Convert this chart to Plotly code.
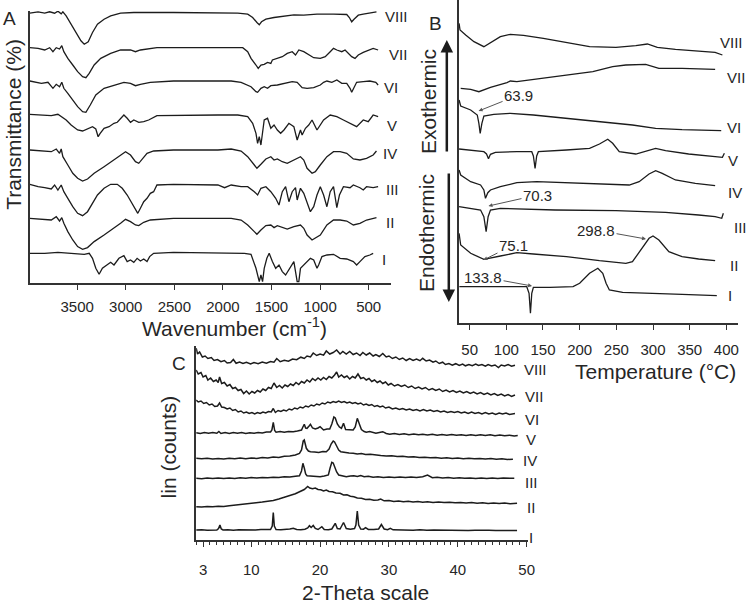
import plotly.graph_objects as go

W, H = 755, 604
LINE = "#1c1c1c"
AXIS = "#333333"
TEXT = "#262626"
FONT = "Arial, 'Liberation Sans', sans-serif"

# ---------------- A: FTIR (wavenumber, transmittance relative to each baseline) ----------------
IR_LABELS = ["I", "II", "III", "IV", "V", "VI", "VII", "VIII"]
IR_OFFSET = [29.7, 64.7, 98, 133, 168, 202, 235.3, 270.5]
IR_TICKS = [3500, 3000, 2500, 2000, 1500, 1000, 500]

IR_I_WN = [3987, 3834, 3698, 3562, 3427, 3376, 3342, 3308, 3274, 3240, 3189, 3155, 3121, 3070, 3019, 2985,
           2951, 2917, 2883, 2849, 2815, 2781, 2754, 2713, 2509,
           2051, 1779, 1711, 1660, 1626, 1609, 1592, 1575, 1548, 1524, 1491, 1457, 1423, 1389, 1355, 1321,
           1270, 1236, 1219, 1202, 1168, 1134, 1100, 1066, 1032, 1015, 981, 930, 862, 794, 726, 658, 624,
           590, 539, 488, 454]
IR_I_T = [0, 0, 1, 0, -1, 0, -5, -15, -21, -15, -11, -9, -11.7, -5, -2.3, -8.3, -6.7, -9, -5, -7.7,
          -5.7, -8.3, -3.3, 0, 1,
          0, 0, -1, -15, -28.3, -21.7, -28.3, -15, -5, 0, -8.3, -15, -11.7, -18.3, -21.7, -16.7, -8.3,
          -28.3, -28.3, -15, -11.7, -8.3, -5, -6.7, -15, -11.7, -3.3, -1.7, -1, -5, -5.7, -8.3, -11.7,
          -8.3, -3.3, -1.7, 0]

IR_II_WN = [3987, 3868, 3766, 3715, 3681, 3658, 3637, 3596, 3545, 3495, 3444, 3393, 3325, 3223, 3121, 3053,
            3002, 2951, 2900, 2866, 2815, 2747, 2509,
            2051, 1915, 1813, 1745, 1677, 1650, 1609, 1558, 1507, 1474, 1440, 1389, 1338, 1270, 1202, 1168,
            1134, 1083, 1049, 998, 930, 862, 794, 726, 658, 590, 522, 454, 420]
IR_II_T = [0, -0.7, -1.7, 1.7, -2.7, 0.7, -5, -13.3, -21.7, -28.3, -31, -29.3, -23.3, -16.7, -10, -5,
           -1, -3.3, -6.7, -7.3, -4, -1.7, 0,
           0, 0, -1.7, -6.7, -13.3, -16, -11.7, -7.3, -6.7, -9.3, -7.3, -9.3, -10.7, -8.3, -6.7, -10,
           -16.7, -21.7, -20, -16.7, -6.7, -1.7, -1.7, -2.7, -6.7, -5, -1.7, 0, 0.7]

IR_III_WN = [3987, 3902, 3834, 3766, 3732, 3698, 3664, 3637, 3596, 3545, 3495, 3444, 3393, 3342, 3291,
             3223, 3155, 3087, 3036, 2985, 2934, 2900, 2876, 2849, 2815, 2781, 2747, 2713, 2679, 2509, 2170,
             2051, 1983, 1915, 1813, 1745, 1677, 1643, 1609, 1558, 1507, 1457, 1423, 1389, 1355, 1321,
             1287, 1253, 1236, 1202, 1168, 1134, 1100, 1066, 1032, 998, 964, 930, 896, 862, 845, 828,
             801, 760, 692, 658, 590, 556, 522, 454, 403]
IR_III_T = [0.7, -1.7, -2.7, -4, 0, -5, 0, -6.7, -13.3, -21.7, -28.3, -30.7, -26.7, -18.3, -10, -3.3,
            0.7, 0.7, -3.3, -10, -18.3, -25, -28.3, -23.3, -16.7, -13.3, -8.3, -6.7, 0, 0.7, 0,
            0, -2.7, 0, -1.7, -1.7, -6.7, -10, -3.3, -1.7, -6.7, -13.3, -20, -6.7, -1.7, -16.7, -6.7,
            -2.7, -15, -3.3, -8.3, -16.7, -26.7, -21.7, -10, -1.7, -10, -21.7, -6.7, -1.7, -11.7, -22.7,
            -10, -1.7, -2.7, 0, -2.7, -5, -1.7, -2.7, -1.7]

IR_IV_WN = [3987, 3868, 3766, 3715, 3681, 3664, 3647, 3596, 3545, 3495, 3444, 3393, 3325, 3223, 3121,
            3053, 3002, 2951, 2900, 2866, 2832, 2781, 2713, 2509,
            2051, 1915, 1813, 1745, 1677, 1650, 1609, 1558, 1507, 1474, 1440, 1389, 1338, 1270, 1202,
            1168, 1134, 1083, 1049, 998, 930, 862, 794, 726, 658, 590, 522, 454, 420]
IR_IV_T = [0, -0.7, -1.7, 1, -3.3, 1, -6.7, -15, -23.3, -28.3, -31, -29, -23.3, -16.7, -10, -5, -1.7,
           -5, -11.7, -13.3, -9, -3.3, -1, 0,
           0, 1, -1, -6.7, -15, -18.3, -14.3, -9, -6.7, -10, -9, -11.7, -13.3, -10, -6.7, -10, -18.3,
           -23.3, -21.7, -15, -6.7, -1.7, -1.7, -3.3, -9, -10, -8.3, -5, -1]

IR_V_WN = [3987, 3868, 3766, 3698, 3664, 3613, 3562, 3495, 3444, 3393, 3342, 3308, 3284, 3263, 3223,
           3172, 3121, 3087, 3053, 3019, 2985, 2951, 2917, 2866, 2815, 2764, 2679, 2340,
           2051, 1847, 1745, 1694, 1660, 1643, 1626, 1609, 1592, 1575, 1541, 1507, 1474, 1440, 1406,
           1372, 1321, 1270, 1236, 1202, 1185, 1151, 1117, 1083, 1032, 998, 964, 896, 828, 760, 692,
           624, 556, 505, 454, 403]
IR_V_T = [0.7, 0, -0.7, 0.7, -1.7, -5, -10, -15, -16, -14, -11.7, -14, -21.7, -18.3, -13.3, -11.7,
          -8.3, -7.3, -3.3, 0, -3.3, -7.3, -5, -7.3, -6.7, -5, -0.7, 0,
          0, 0, -1.7, -8.3, -18.3, -28.3, -21.7, -30, -16.7, -5, -3.3, -13.3, -10, -15, -18.3, -15,
          -8.3, -11.7, -25, -15, -20, -13.3, -10, -5, -15, -10, -5, 0, -1.7, -5, -8.3, -11.7, -5,
          -6.7, 0, -1.7]

IR_VI_WN = [3987, 3936, 3868, 3800, 3749, 3715, 3681, 3658, 3637, 3596, 3545, 3495, 3444, 3410, 3365,
            3308, 3223, 3121, 3019, 2951, 2900, 2849, 2747, 2509,
            2051, 1915, 1813, 1762, 1711, 1660, 1643, 1609, 1575, 1541, 1507, 1440, 1372, 1287, 1236,
            1185, 1134, 1066, 998, 964, 930, 879, 828, 777, 726, 692, 675, 651, 624, 556, 488, 427, 403]
IR_VI_T = [0, -1.3, -2.3, -1.3, -7.3, -3.3, -5.7, -1.3, -7.3, -12.3, -19, -25.7, -30.7, -31.3, -24,
           -14, -7.3, -4, -1.3, -2.3, -4.7, -3.3, -1.3, 0,
           0, 0, -1.3, -3.3, -5.7, -10.7, -11.3, -7.3, -5.7, -7.3, -4.7, -4, -2.3, -0.7, -1.3, -6.7,
           -7.3, -6.7, -4, -1.3, 0, -1.3, 1, -2.3, -2.3, -7.3, -11.3, -5.7, -1.3, -0.7, 0, -1.3, -4]

IR_VII_WN = [3987, 3902, 3834, 3783, 3749, 3715, 3681, 3658, 3637, 3596, 3545, 3495, 3444, 3410, 3376,
             3325, 3257, 3155, 3053, 2951, 2900, 2849, 2679, 2340,
             2051, 1881, 1796, 1745, 1711, 1660, 1637, 1609, 1575, 1541, 1507, 1491, 1440, 1389, 1338,
             1287, 1253, 1219, 1168, 1117, 1066, 998, 947, 896, 862, 828, 777, 743, 709, 675, 641, 607,
             556, 505, 454, 403]
IR_VII_T = [0, -0.7, -2.3, 0, -4, 0, -1.3, 2, -4, -10.7, -17.3, -24, -29, -30, -25.7, -17.3, -10.7,
            -5.7, -2.3, -2.3, -4, -2.3, 0, 0,
            0, 0.7, 0, -4, -10.7, -17.3, -20.7, -17.3, -16.7, -14.7, -15.7, -12.3, -10.7, -9, -5.7, -4,
            -7.3, -2.3, -4, -7.3, -10, -10.7, -9, -4, -0.7, -2.3, -4, -2.3, -5.7, -9, -10.7, -7.3, -4.7,
            -2.3, -0.7, -2.3]

IR_VIII_WN = [3987, 3902, 3834, 3783, 3732, 3698, 3664, 3647, 3613, 3562, 3511, 3461, 3427, 3386, 3342,
              3291, 3223, 3155, 3053, 2917, 2509,
              2051, 1847, 1745, 1694, 1650, 1626, 1603, 1558, 1474, 1372, 1270, 1168, 1032, 862, 726,
              699, 675, 651, 607, 556, 505, 471, 420]
IR_VIII_T = [-0.7, 0.7, -0.7, 0.7, -0.7, 1.3, -1.3, 0.7, -3.3, -11.7, -20, -28.3, -31.7, -29.3, -20,
             -11.7, -6.7, -3.3, -0.7, 0, 0,
             -0.7, -0.7, -1.7, -5, -10, -12.3, -9.3, -6.7, -5, -4, -2.3, -2.7, -1.7, -1.7, -2, -5, -9.3,
             -6.7, -2.7, -1.7, -0.7, 0, 0.7]

IR_WN = [IR_I_WN, IR_II_WN, IR_III_WN, IR_IV_WN, IR_V_WN, IR_VI_WN, IR_VII_WN, IR_VIII_WN]
IR_T = [IR_I_T, IR_II_T, IR_III_T, IR_IV_T, IR_V_T, IR_VI_T, IR_VII_T, IR_VIII_T]

# ---------------- B: DSC (temperature, stacked heat flow a.u.) ----------------
DSC_TICKS = [50, 100, 150, 200, 250, 300, 350, 400]

DSC_I_T = [36, 69.4, 114.4, 127.9, 131, 132.9, 134.7, 136.9, 159.5, 191, 200, 213.5, 224.8, 231.5, 236,
           240.5, 258.6, 294.6, 339.6, 387]
DSC_I_Q = [36.3, 36.3, 36.3, 36.3, 29.7, 9.7, 29.7, 35.7, 35.7, 36.3, 39.7, 49.7, 54.7, 49.7, 39.7, 33,
           30.7, 30, 28.7, 27.3]

DSC_II_T = [35.6, 37.8, 51.4, 69.4, 91.9, 114.4, 136.9, 182, 227, 263, 272, 283.3, 294.6, 300, 308,
            321.6, 339.6, 362.2, 384.7]
DSC_II_Q = [89.7, 78, 69.7, 63.7, 67, 70.3, 69, 66.3, 62.3, 59.7, 61.3, 73, 84.7, 87, 83, 71.3, 66.3,
            64, 62.3]

DSC_III_T = [35.6, 51.4, 64.9, 69.4, 72.5, 75.2, 78.4, 91.9, 166.5, 249.5, 317.1, 362.2, 384.7, 393.7,
             395.9]
DSC_III_Q = [116.3, 114.7, 113, 106.3, 91.3, 106.3, 113, 114.7, 113, 112.3, 110.7, 108, 106.3, 104.7,
             109.7]

DSC_IV_T = [35.6, 37.8, 51.4, 64.9, 69.4, 71.6, 74.8, 78.4, 91.9, 114.4, 141.4, 182, 227, 267.6, 281.1,
            294.6, 303.6, 312.6, 330.6, 357.7, 384.7]
DSC_IV_Q = [153, 148, 141.3, 138, 133, 124.7, 130.3, 133, 136.3, 140.3, 141.3, 140.3, 139, 138, 141.3,
            149, 152.3, 149.7, 143, 139.7, 137.3]

DSC_V_T = [35.6, 51.4, 69.4, 73, 75.7, 78.4, 85.1, 114.4, 134.7, 136.9, 139.2, 141.4, 143.7, 182, 213.5,
           227, 238.3, 245, 254, 276.6, 294.6, 303.6, 317.1, 348.6, 384.7, 394.6, 397.3]
DSC_V_Q = [174, 173, 171.3, 169, 164.3, 168.7, 170.7, 171.3, 171.3, 167, 154.7, 167, 171.3, 173, 174.7,
           179, 183.7, 179.7, 171.3, 169, 172.3, 174.7, 172.3, 169, 166.3, 165.7, 169.7]

DSC_VI_T = [35.6, 37.8, 51.4, 60.4, 62.6, 64.4, 66.7, 69.4, 82.9, 105.4, 136.9, 182, 227, 249.5, 272,
            303.6, 339.6, 393]
DSC_VI_Q = [223, 217, 213, 208, 199.7, 189.7, 199.7, 207, 208.7, 209.7, 208, 204.7, 201.3, 199.7, 198,
            194.7, 193.3, 192.3]

DSC_VII_T = [37.8, 51.4, 62.6, 78.4, 100.9, 105.4, 114.4, 150.5, 186.5, 218, 245, 263, 290, 296.8, 308,
             339.6, 384.7]
DSC_VII_Q = [234.7, 233.7, 231.3, 235.7, 240.3, 242, 241.3, 244.7, 248, 251.3, 256.3, 258, 258.7, 257,
             254.7, 254.7, 253.7]

DSC_VIII_T = [35.6, 36.9, 44.6, 55.9, 69.4, 78.4, 91.9, 105.4, 123.4, 150.5, 182, 213.5, 249.5, 276.6,
              292.3, 305.9, 330.6, 357.7, 384.7, 394.6]
DSC_VIII_Q = [299.7, 293, 288, 281.3, 276.3, 280.3, 286.3, 288.7, 287.7, 284.7, 280.3, 276.3, 275.7,
              277.3, 279, 275.7, 273.7, 272, 270.7, 268]

DSC_T = [DSC_I_T, DSC_II_T, DSC_III_T, DSC_IV_T, DSC_V_T, DSC_VI_T, DSC_VII_T, DSC_VIII_T]
DSC_Q = [DSC_I_Q, DSC_II_Q, DSC_III_Q, DSC_IV_Q, DSC_V_Q, DSC_VI_Q, DSC_VII_Q, DSC_VIII_Q]

# peak callouts: (text, temperature, heat flow, text offset dx, dy in px)
DSC_NOTES = [("63.9", 62.2, 212, 40, -16), ("70.3", 75.7, 117, 49, -11), ("75.1", 68.9, 63, 30, -15),
             ("298.8", 290.5, 84, -50, -9), ("133.8", 135.1, 37, -49, -9)]

# ---------------- C: XRD (2-theta, stacked counts a.u.) ----------------
XRD_TICKS = [3, 10, 20, 30, 40, 50]

XRD_I_2T = [2.0, 2.8, 3.6, 4.4, 5.0, 5.25, 5.45, 5.65, 5.9, 6.6, 7.4, 8.2, 9.0, 9.8, 10.6, 11.4, 12.2,
            12.8, 13.05, 13.2, 13.35, 13.6, 14.3, 15.0, 15.6, 16.1, 16.6, 17.2, 17.8, 18.2, 18.45, 18.7,
            19.0, 19.3, 19.7, 20.25, 20.6, 21.2, 21.7, 22.2, 22.5, 22.9, 23.4, 23.8, 24.4, 25.0, 25.2,
            25.4, 25.6, 25.9, 26.3, 26.6, 27.0, 27.8, 28.5, 28.9, 29.3, 29.8, 30.2, 30.6, 31.5, 32.5,
            33.5, 34.5, 35.5, 36.5, 37.5, 38.5, 39.5, 40.5, 41.5, 42.5, 43.5, 44.5, 45.5, 46.5, 47.5,
            48.6]
XRD_I_C = [10, 10.3, 9.8, 10.2, 10, 11.5, 15, 11, 10, 10.3, 9.8, 10.2, 10, 10.3, 10, 10.4, 10.2, 10.5,
           14, 27.5, 14, 10.5, 10.2, 10.5, 11, 11.8, 10.5, 10.3, 10.8, 12, 14.3, 12.5, 14.5, 11.5, 10.5,
           13.3, 10.5, 10.3, 11, 16.7, 11.5, 11, 17.5, 11.5, 10.8, 11.5, 15, 29, 15, 11, 10.8, 12.3,
           10.5, 10.5, 11, 15.5, 11, 10.3, 11.7, 10.2, 10, 10.3, 9.8, 10.2, 9.7, 10, 9.8, 10, 9.6, 9.9,
           9.5, 9.8, 9.4, 9.7, 9.4, 9.6, 9.3, 9.4]

XRD_II_2T = [2.0, 2.8, 3.6, 4.4, 5.2, 6.0, 6.8, 7.6, 8.4, 9.2, 10.0, 10.8, 11.6, 12.4, 13.2, 14.0, 14.8,
             15.6, 16.4, 17.1, 17.7, 18.2, 18.5, 18.9, 19.3, 19.7, 20.1, 20.5, 20.9, 21.3, 21.8, 22.3,
             22.9, 23.4, 23.9, 24.4, 24.9, 25.4, 26.0, 26.6, 27.2, 27.8, 28.4, 28.8, 29.3, 30.0, 30.7,
             31.4, 32.1, 32.8, 33.5, 34.2, 34.9, 35.6, 36.4, 37.2, 38.0, 38.8, 39.6, 40.4, 41.2, 42.0,
             42.8, 43.6, 44.4, 45.2, 46.0, 46.8, 47.6, 48.6]
XRD_II_C = [33.3, 33, 33.6, 33.2, 33.8, 33.5, 34.3, 34.8, 35.5, 36, 36.8, 37.3, 38, 38.8, 39.5, 41,
            42.5, 44.5, 46.3, 48.3, 50.5, 53.5, 52, 51.3, 52, 50.5, 50.3, 49, 50, 48.5, 48.3, 47, 46.7,
            45, 45.2, 43.8, 43.3, 42, 41.8, 40.5, 40.8, 39.8, 40, 41, 39.2, 39.5, 38.6, 39, 38.3, 38.7,
            38, 38.5, 37.8, 38.2, 37.6, 38, 37.4, 37.8, 37.2, 37.6, 37, 37.5, 36.8, 37.3, 36.6, 37.1,
            36.4, 37, 36.3, 36.8]

XRD_III_2T = [2.0, 2.8, 3.6, 4.4, 5.2, 6.0, 6.8, 7.6, 8.4, 9.2, 10.0, 10.8, 11.6, 12.4, 13.2, 14.0, 14.8,
              15.6, 16.4, 17.0, 17.3, 17.5, 17.7, 17.9, 18.1, 18.7, 19.4, 20.0, 20.6, 21.2, 21.45, 21.7,
              21.9, 22.1, 22.4, 22.7, 23.2, 23.8, 24.4, 24.9, 25.4, 25.9, 26.4, 27.0, 27.7, 28.4, 29.2,
              30.0, 30.8, 31.6, 32.4, 33.2, 34.0, 34.9, 35.6, 36.3, 37.0, 37.8, 38.6, 39.4, 40.2, 41.0,
              41.8, 42.6, 43.4, 44.2, 45.0, 45.8, 46.6, 47.4, 48.2]
XRD_III_C = [61.7, 61.3, 62, 61.4, 62, 61.5, 62, 61.6, 62.2, 61.8, 62.4, 62, 62.6, 62.2, 62.8, 62.6,
             63.2, 63, 63.8, 64.3, 69, 76.7, 72, 66, 64.3, 63.8, 63.5, 63.3, 64, 65, 72, 77.7, 77, 73.3,
             68, 65, 64, 63.3, 64, 64.3, 63.6, 64.5, 63.3, 63.8, 62.8, 63.3, 62.6, 63, 62.5, 62.9, 62.4,
             63, 62.5, 63.3, 65, 62.3, 62.7, 62, 62.4, 61.8, 62.2, 61.7, 62.1, 61.6, 62, 61.6, 62, 61.5,
             61.9, 61.5, 61.8]

XRD_IV_2T = [2.0, 2.8, 3.6, 4.4, 5.2, 6.0, 6.8, 7.6, 8.4, 9.2, 10.0, 10.8, 11.6, 12.4, 13.2, 14.0, 14.8,
             15.6, 16.4, 17.0, 17.3, 17.55, 17.7, 17.85, 18.0, 18.3, 18.6, 19.2, 19.8, 20.4, 20.9, 21.3,
             21.6, 21.9, 22.1, 22.4, 22.7, 23.0, 23.6, 24.2, 24.8, 25.4, 26.0, 26.6, 27.3, 28.0, 28.8,
             29.6, 30.4, 31.2, 32.0, 32.8, 33.6, 34.4, 35.2, 36.0, 36.8, 37.6, 38.4, 39.2, 40.0, 40.8,
             41.6, 42.4, 43.2, 44.0, 44.8, 45.6, 46.4, 47.2, 48.0]
XRD_IV_C = [81.7, 81.2, 81.8, 81, 81.6, 81, 81.7, 81.2, 82, 81.3, 82, 81.6, 82.4, 82, 83, 82.6, 83.8,
            84, 85, 86.5, 90, 99, 100, 96, 91.7, 89, 88.3, 88, 87.5, 88.5, 88.3, 91, 96, 99, 98, 94, 90,
            88.3, 87.5, 87, 86.7, 86, 86.5, 85.5, 85.8, 85, 84.5, 84, 84.3, 83.5, 83.8, 83, 83.3, 82.5,
            82.8, 82.2, 82.5, 81.8, 82.2, 81.5, 81.9, 81.3, 81.7, 81.2, 81.5, 81, 81.4, 80.8, 81.2,
            80.5, 80.8]

XRD_V_2T = [2.0, 2.6, 3.2, 3.8, 4.4, 5.0, 5.3, 5.6, 6.2, 6.8, 7.4, 8.0, 8.6, 9.2, 9.8, 10.4, 11.0, 11.6,
            12.2, 12.8, 13.0, 13.2, 13.4, 13.6, 14.2, 14.8, 15.4, 16.1, 16.7, 17.3, 17.5, 17.7, 17.9,
            18.1, 18.4, 18.6, 18.9, 19.3, 19.7, 20.0, 20.5, 21.0, 21.4, 21.7, 22.0, 22.2, 22.5, 22.8,
            23.1, 23.4, 23.7, 24.2, 24.8, 25.1, 25.4, 25.7, 26.0, 26.4, 26.7, 27.2, 27.7, 28.1, 28.6,
            29.1, 29.6, 30.1, 30.8, 31.5, 32.2, 32.9, 33.6, 34.3, 34.9, 35.6, 36.3, 37.0, 37.7, 38.4,
            39.1, 39.8, 40.5, 41.2, 41.9, 42.6, 43.3, 44.0, 44.7, 45.4, 46.1, 46.8, 47.5, 48.2, 48.7]
XRD_V_C = [107.3, 106.5, 107.5, 106.8, 107.5, 106.7, 108.5, 106.5, 107.5, 106.5, 107.5, 106.8, 107.5,
           106.5, 107.3, 106.7, 107.5, 107, 108, 108, 110, 117.7, 109.5, 107.7, 108.5, 107.8, 108.5,
           108.3, 109, 110, 113, 115.7, 112, 111.7, 114, 115.7, 112, 111, 112, 113.3, 110, 111, 111, 116,
           123, 122, 116, 113, 111.7, 116.7, 110.5, 110, 110, 113, 121.7, 116, 110.5, 108.5, 107.7,
           108.5, 107.3, 106.7, 107.5, 108.3, 106.5, 105.7, 106.5, 105.5, 106.3, 105.3, 106, 105.3,
           105.7, 105, 105.8, 104.8, 105.5, 104.8, 105.5, 104.7, 105.3, 104.5, 105.3, 104.5, 105.2,
           104.5, 105.2, 104.3, 105, 104.3, 104.8, 104, 104.5]

XRD_VI_2T = [2.0, 2.3, 2.7, 3.1, 3.5, 3.9, 4.3, 4.7, 5.1, 5.4, 5.7, 6.1, 6.5, 6.9, 7.3, 7.7, 8.1, 8.5,
             8.9, 9.3, 9.7, 10.1, 10.5, 10.9, 11.3, 11.7, 12.1, 12.5, 12.9, 13.2, 13.5, 13.9, 14.3, 14.7,
             15.1, 15.5, 15.9, 16.3, 16.7, 17.1, 17.5, 17.9, 18.3, 18.7, 19.1, 19.5, 19.9, 20.3, 20.7,
             21.1, 21.5, 21.9, 22.3, 22.7, 23.1, 23.5, 23.9, 24.3, 24.7, 25.1, 25.5, 25.9, 26.3, 26.7,
             27.1, 27.5, 27.9, 28.3, 28.7, 29.1, 29.5, 30.0, 30.5, 31.0, 31.5, 32.0, 32.5, 33.0, 33.5,
             34.0, 34.5, 35.0, 35.5, 36.0, 36.5, 37.0, 37.5, 38.0, 38.5, 39.0, 39.5, 40.0, 40.5, 41.0,
             41.5, 42.0, 42.5, 43.0, 43.5, 44.0, 44.5, 45.0, 45.5, 46.0, 46.5, 47.0, 47.5, 48.3]
XRD_VI_C = [140, 138, 139, 136.5, 137.5, 135, 136, 133.5, 134, 137, 133, 132.5, 131, 132, 129.5, 130.5,
            128, 129, 127, 128, 126.5, 127.5, 126, 127.5, 126.5, 128, 127, 128.5, 128, 131.5, 127.5,
            129.5, 128.5, 130, 129, 131, 130, 132, 131, 133, 132, 134, 133, 135, 134, 136, 135, 137, 136,
            138, 137, 138.5, 137.5, 139, 137.5, 138.5, 137, 138, 136.5, 137.5, 136, 137, 135, 136, 134.5,
            135.5, 133.5, 134.5, 133, 134, 132, 133, 131, 132, 130.5, 131.5, 130, 131, 129.5, 130.5, 129,
            130.5, 129, 130, 128.5, 129.5, 128, 129, 127.5, 128.5, 127.5, 128.5, 127, 128, 126.5, 128,
            126.5, 127.5, 126, 127.5, 126, 127, 125.5, 127, 126, 127, 125.5, 126.5]

XRD_VII_2T = [2.0, 2.3, 2.7, 3.0, 3.4, 3.7, 4.1, 4.5, 4.9, 5.2, 5.4, 5.7, 6.1, 6.5, 6.9, 7.3, 7.7, 8.1,
              8.5, 8.9, 9.3, 9.7, 10.1, 10.5, 10.9, 11.3, 11.7, 12.1, 12.5, 12.9, 13.3, 13.7, 14.1, 14.5,
              14.9, 15.3, 15.7, 16.1, 16.5, 16.9, 17.3, 17.7, 18.1, 18.5, 18.9, 19.3, 19.7, 20.1, 20.5,
              20.9, 21.3, 21.7, 22.1, 22.4, 22.7, 23.1, 23.5, 23.9, 24.3, 24.7, 25.1, 25.5, 25.9, 26.3,
              26.7, 27.1, 27.5, 27.9, 28.3, 28.7, 29.1, 29.5, 29.9, 30.3, 30.8, 31.3, 31.8, 32.3, 32.8,
              33.3, 33.8, 34.3, 34.8, 35.3, 35.8, 36.3, 36.8, 37.3, 37.8, 38.3, 38.8, 39.3, 39.8, 40.3,
              40.8, 41.3, 41.8, 42.3, 42.8, 43.3, 43.8, 44.3, 44.8, 45.3, 45.8, 46.3, 46.8, 47.3, 47.8,
              48.3]
XRD_VII_C = [170, 166, 167.5, 163, 164.5, 160, 162, 158.5, 160, 157.5, 163, 156.5, 157.5, 154, 155.5,
             151.5, 152.5, 149.5, 150.5, 146.5, 149, 146, 148.5, 147, 149.5, 148, 151, 149.5, 152.5, 151.5,
             157, 152.5, 154.5, 152, 155, 153.5, 156, 154.5, 157.5, 155.5, 158.5, 157, 160, 158, 161.5,
             159.5, 162, 160, 162.5, 160.5, 163.5, 162, 165, 168, 163, 165, 162.5, 164, 161, 163.5, 162,
             166, 161.5, 162.5, 160, 161.5, 158.5, 160, 157.5, 159, 156.5, 158, 155, 156.5, 154, 155.5,
             153.5, 155, 152.5, 154, 151.5, 153, 151, 152.5, 150, 151.5, 149.5, 151, 148.5, 150, 148,
             149.5, 147.5, 149, 147, 148.5, 146.5, 148, 146, 147.5, 145.5, 147, 145, 146.5, 144.5, 146,
             144, 145.5, 143.5, 145]

XRD_VIII_2T = [2.0, 2.2, 2.5, 2.9, 3.3, 3.7, 4.2, 4.6, 5.1, 5.6, 6.1, 6.5, 7.0, 7.4, 7.8, 8.3, 8.8, 9.3,
               9.9, 10.4, 11.0, 11.6, 12.2, 12.8, 13.3, 13.7, 14.2, 14.8, 15.4, 16.0, 16.6, 17.2, 17.7,
               18.1, 18.6, 19.0, 19.5, 20.0, 20.5, 20.9, 21.4, 21.9, 22.4, 22.9, 23.3, 23.8, 24.3, 24.8,
               25.3, 25.8, 26.2, 26.7, 27.2, 27.7, 28.1, 28.6, 29.1, 29.6, 30.0, 30.5, 31.0, 31.5, 32.0,
               32.5, 33.0, 33.5, 34.0, 34.5, 34.9, 35.4, 35.9, 36.4, 36.8, 37.3, 37.8, 38.2, 38.7, 39.2,
               39.7, 40.2, 40.7, 41.1, 41.6, 42.1, 42.6, 43.0, 43.5, 44.0, 44.4, 44.9, 45.4, 45.9, 46.3,
               46.8, 47.3, 47.8, 48.3]
XRD_VIII_C = [191.7, 186, 188, 183, 184, 181.5, 182.5, 179.5, 180.5, 178.3, 179.5, 177, 177.5, 180.5,
              176.7, 178, 176.5, 177.8, 176, 177.5, 176.3, 178, 176.8, 178.5, 177.8, 181.5, 178.3, 179.8,
              178.8, 181, 180.3, 182.8, 181.5, 184, 183, 187, 184.5, 186, 184.8, 189, 186, 187.5, 190,
              186, 188.5, 186, 188.5, 185.5, 187, 184.5, 187.5, 185, 187, 184, 185.5, 183.5, 186.5, 183,
              184, 181.5, 183, 180.5, 182, 179.5, 181.5, 179.5, 181, 179.3, 181.7, 179, 180, 177.8, 179,
              176.5, 177.8, 175.5, 176.5, 174.8, 176.3, 174.5, 176, 174.2, 175.5, 174.3, 176, 174.5,
              175.5, 173.8, 175.5, 174, 175, 172.5, 175, 174, 175.5, 173.8, 174.8]

XRD_2T = [XRD_I_2T, XRD_II_2T, XRD_III_2T, XRD_IV_2T, XRD_V_2T, XRD_VI_2T, XRD_VII_2T, XRD_VIII_2T]
XRD_C = [XRD_I_C, XRD_II_C, XRD_III_C, XRD_IV_C, XRD_V_C, XRD_VI_C, XRD_VII_C, XRD_VIII_C]


def px(x):
    return x / W


def py(y):
    return 1 - y / H


fig = go.Figure()

for wn, t, off in zip(IR_WN, IR_T, IR_OFFSET):
    fig.add_trace(go.Scatter(x=wn, y=[off + v for v in t], mode="lines",
                             line=dict(color=LINE, width=1.3), xaxis="x", yaxis="y"))

for temp, q in zip(DSC_T, DSC_Q):
    fig.add_trace(go.Scatter(x=temp, y=q, mode="lines",
                             line=dict(color=LINE, width=1.3), xaxis="x2", yaxis="y2"))

for tt, c in zip(XRD_2T, XRD_C):
    fig.add_trace(go.Scatter(x=tt, y=c, mode="lines",
                             line=dict(color=LINE, width=1.5), xaxis="x3", yaxis="y3"))

axis_common = dict(showline=True, linecolor=AXIS, linewidth=1.6, showgrid=False, zeroline=False,
                   tickfont=dict(size=15, color=TEXT, family=FONT))
xtick = dict(ticks="outside", ticklen=5, tickwidth=1.2, tickcolor=AXIS)
yplain = dict(showticklabels=False, ticks="")

fig.update_layout(
    width=W, height=H,
    margin=dict(l=0, r=0, t=0, b=0),
    paper_bgcolor="white", plot_bgcolor="white",
    showlegend=False, hovermode=False,
    font=dict(family=FONT, color=TEXT),
    xaxis=dict(domain=[px(30), px(395)], range=[3988, 267], anchor="y",
               tickmode="array", tickvals=IR_TICKS, ticktext=[str(t) for t in IR_TICKS],
               ticklabelstandoff=4, **xtick, **axis_common),
    yaxis=dict(domain=[py(283), py(11)], range=[0, 272], anchor="x", **yplain, **axis_common),
    xaxis2=dict(domain=[px(463), px(745)], range=[35.1, 416], anchor="y2",
                tickmode="array", tickvals=DSC_TICKS, ticklabelstandoff=7, **xtick, **axis_common),
    yaxis2=dict(domain=[py(323), py(0)], range=[0, 323], anchor="x2", **yplain, **axis_common),
    xaxis3=dict(domain=[px(198), px(533)], range=[2, 50.2], anchor="y3",
                tickmode="array", tickvals=XRD_TICKS, ticklabelstandoff=10,
                minor=dict(tickmode="linear", tick0=0, dtick=1, ticks="outside", ticklen=3,
                           tickcolor=AXIS, tickwidth=1),
                **xtick, **axis_common),
    yaxis3=dict(domain=[py(540), py(346)], range=[0, 194], anchor="x3", **yplain, **axis_common),
)

ann = []


def label(text, x, y, size=15, angle=0, xanchor="center"):
    ann.append(dict(text=text, x=px(x), y=py(y), xref="paper", yref="paper", showarrow=False,
                    xanchor=xanchor, yanchor="middle", textangle=angle,
                    font=dict(size=size, color=TEXT, family=FONT)))


# curve labels (I..VIII) for each panel
IR_LABEL_POS = [(388, 259), (394, 222), (396, 190), (394, 153), (396, 125), (395, 87), (402, 54), (400, 17)]
DSC_LABEL_POS = [(737, 295), (741, 266), (747, 227), (742, 192), (740, 160), (741, 127), (743, 77), (738, 42)]
XRD_LABEL_POS = [(536, 537), (536, 507), (536, 482), (535, 460), (536, 439), (537, 419), (539, 396), (541, 369)]
for lab, (x, y) in zip(IR_LABELS, IR_LABEL_POS):
    label(lab, x, y)
for lab, (x, y) in zip(IR_LABELS, DSC_LABEL_POS):
    label(lab, x, y)
for lab, (x, y) in zip(IR_LABELS, XRD_LABEL_POS):
    label(lab, x, y)

# panel letters
label("A", 10, 18, size=19)
label("B", 440, 24, size=19)
label("C", 181, 363, size=19)

# axis titles
label("Transmittance (%)", 14, 124, size=21, angle=-90)
label("Wavenumber (cm<sup>-1</sup>)", 237, 327, size=21)
label("Temperature (°C)", 662, 371, size=21)
label("2-Theta scale", 369, 592, size=21)
label("lin (counts)", 171, 447, size=21, angle=-90)
label("Exothermic", 432, 101, size=21, angle=-90)
label("Endothermic", 430, 233, size=21, angle=-90)

# exo / endo arrows
ann.append(dict(text="", x=px(451), y=py(40), xref="paper", yref="paper", showarrow=True,
                ax=0, ay=113, arrowhead=2, arrowsize=1, arrowwidth=2.5, arrowcolor=LINE))
ann.append(dict(text="", x=px(453), y=py(302), xref="paper", yref="paper", showarrow=True,
                ax=0, ay=-130, arrowhead=2, arrowsize=1, arrowwidth=2.5, arrowcolor=LINE))

# DSC peak callouts
for text, t, q, dx, dy in DSC_NOTES:
    ann.append(dict(text=text, x=t, y=q, xref="x2", yref="y2", showarrow=True, ax=dx, ay=dy,
                    arrowhead=2, arrowsize=0.8, arrowwidth=1, arrowcolor="#555555",
                    font=dict(size=15, color=TEXT, family=FONT)))

fig.update_layout(annotations=ann)

# the page's default body margin would push the figure off by 8 px
fig.write_html("out.html", config={"displayModeBar": False},
               post_script="document.body.style.margin='0';document.body.style.overflow='hidden';")
